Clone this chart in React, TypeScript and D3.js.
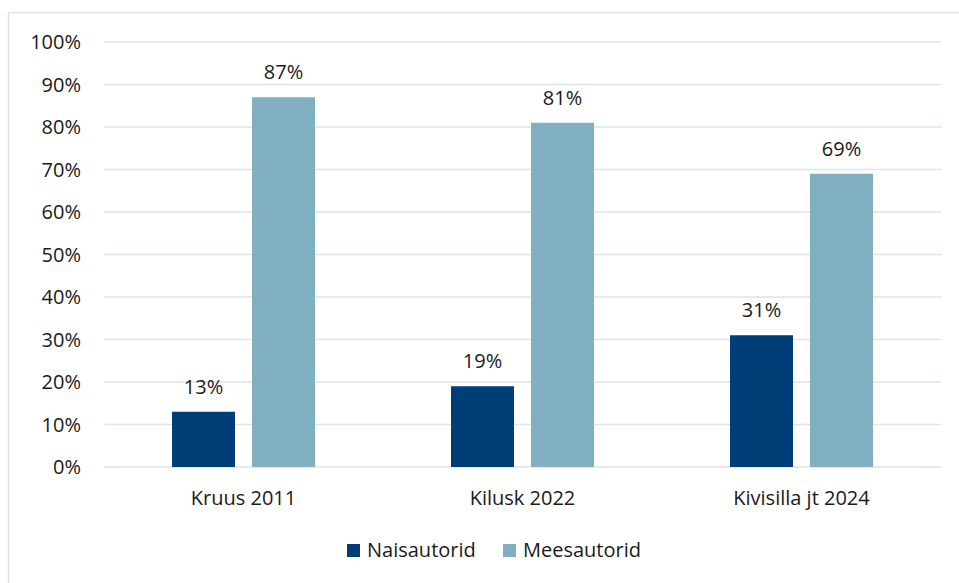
import React from "react";
import * as d3 from "d3";

const categories = ["Kruus 2011", "Kilusk 2022", "Kivisilla jt 2024"];
const seriesNames = ["Naisautorid", "Meesautorid"];
const naisautorid = [13, 19, 31];
const meesautorid = [87, 81, 69];
const yTicks = [0, 10, 20, 30, 40, 50, 60, 70, 80, 90, 100];
const colors = ["#013e78", "#80afc2"];

const W = 959;
const H = 583;
const FONT = "'Open Sans', Lato, sans-serif";
const FS = 20;

export default function App() {
  const left = 104;
  const right = 941;
  const top = 42;
  const bottom = 467;
  const x0 = d3.scaleBand<string>().domain(categories).range([left, right]);
  const x1 = d3.scaleBand<string>().domain(seriesNames).range([68, x0.bandwidth() - 68]).paddingInner(0.2125);
  const y = d3.scaleLinear().domain([0, 100]).range([bottom, top]);
  const series = [naisautorid, meesautorid];

  return (
    <svg width={W} height={H} style={{ position: "absolute", left: 0, top: 0, background: "#fff" }}>
      <rect x={8.5} y={12.5} width={W + 10} height={H + 10} fill="#fff" stroke="#dbe4e6" strokeWidth={1.5} />
      {yTicks.map((t) => (
        <g key={t}>
          <line x1={left} x2={right} y1={y(t)} y2={y(t)} stroke="#dde5e7" strokeWidth={1.6} />
          <text x={81} y={y(t)} dy="0.35em" textAnchor="end" fontFamily={FONT} fontSize={FS} fill="#1a1a1a">
            {t}%
          </text>
        </g>
      ))}
      {categories.map((c, ci) => (
        <g key={c}>
          {series.map((vals, si) => {
            const bx = (x0(c) as number) + (x1(seriesNames[si]) as number);
            const bw = x1.bandwidth();
            return (
              <g key={si}>
                <rect x={bx} y={y(vals[ci])} width={bw} height={y(0) - y(vals[ci])} fill={colors[si]} />
                <text x={bx + bw / 2} y={y(vals[ci]) - 18} textAnchor="middle" fontFamily={FONT} fontSize={FS} fill="#1a1a1a">
                  {vals[ci]}%
                </text>
              </g>
            );
          })}
          <text x={(x0(c) as number) + x0.bandwidth() / 2} y={505} textAnchor="middle" fontFamily={FONT} fontSize={FS} fill="#1a1a1a">
            {c}
          </text>
        </g>
      ))}
      {seriesNames.map((s, i) => {
        const lx = [347, 503][i];
        return (
          <g key={s}>
            <rect x={lx} y={544} width={13} height={13} fill={colors[i]} />
            <text x={lx + 20} y={557} fontFamily={FONT} fontSize={FS} fill="#1a1a1a">
              {s}
            </text>
          </g>
        );
      })}
    </svg>
  );
}
